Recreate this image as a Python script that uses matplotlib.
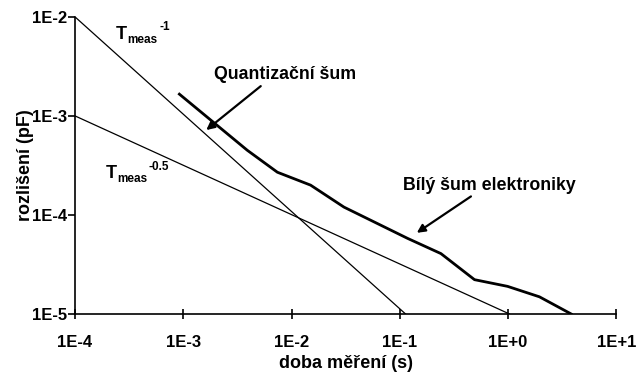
import matplotlib
matplotlib.use("Agg")
import matplotlib.pyplot as plt
from matplotlib.ticker import FixedLocator, FixedFormatter, NullLocator

# data
t_noise = [9.2e-4, 3.9e-3, 7.4e-3, 1.5e-2, 3.05e-2, 1.18e-1, 2.4e-1, 4.9e-1, 9.9e-1, 1.95, 3.83]
r_noise = [1.66e-3, 4.5e-4, 2.7e-4, 2.0e-4, 1.2e-4, 5.8e-5, 4.07e-5, 2.22e-5, 1.9e-5, 1.49e-5, 1.0e-5]
t_inv1 = [1e-4, 1.13e-1]
r_inv1 = [1e-2, 1e-5]
t_inv05 = [1e-4, 1.03]
r_inv05 = [1e-3, 1e-5]

x_ticks = [1e-4, 1e-3, 1e-2, 1e-1, 1e0, 1e1]
x_labels = ["1E-4", "1E-3", "1E-2", "1E-1", "1E+0", "1E+1"]
y_ticks = [1e-5, 1e-4, 1e-3, 1e-2]
y_labels = ["1E-5", "1E-4", "1E-3", "1E-2"]

plt.rcParams['font.family'] = ['Liberation Sans', 'DejaVu Sans']
plt.rcParams['font.weight'] = 'bold'

fig = plt.figure(figsize=(6.36, 3.76), dpi=100)
ax = fig.add_axes([0.118, 0.165, 0.851, 0.79])

ax.plot(t_inv1, r_inv1, color='black', lw=0.9)
ax.plot(t_inv05, r_inv05, color='black', lw=0.9)
ax.plot(t_noise, r_noise, color='black', lw=2.0)

ax.set_xscale('log')
ax.set_yscale('log')
ax.set_xlim(1e-4, 1e1)
ax.set_ylim(1e-5, 1e-2)

ax.xaxis.set_major_locator(FixedLocator(x_ticks))
ax.xaxis.set_major_formatter(FixedFormatter(x_labels))
ax.yaxis.set_major_locator(FixedLocator(y_ticks))
ax.yaxis.set_major_formatter(FixedFormatter(y_labels))
ax.xaxis.set_minor_locator(NullLocator())
ax.yaxis.set_minor_locator(NullLocator())

ax.spines['top'].set_visible(False)
ax.spines['right'].set_visible(False)
ax.spines['left'].set_linewidth(1.2)
ax.spines['bottom'].set_linewidth(1.2)
ax.tick_params(axis='x', direction='inout', length=7, width=1.2, labelsize=12, pad=12)
ax.tick_params(axis='y', direction='out', length=5, width=1.2, labelsize=12, pad=1)

ax.set_xlabel("doba měření (s)", fontsize=13, fontweight='bold', labelpad=3)
ax.set_ylabel("rozlišení (pF)", fontsize=13, fontweight='bold', labelpad=-2)


def power_label(x, y, exponent):
    # T with "meas" subscript and exponent superscript
    ax.text(x, y, "T", fontsize=13, fontweight='bold', ha='left', va='center')
    ax.annotate("meas", xy=(x, y), xytext=(8, -4), textcoords='offset points',
                fontsize=8.5, fontweight='bold', ha='left', va='center')
    ax.annotate(exponent, xy=(x, y), xytext=(31, 5), textcoords='offset points',
                fontsize=8.5, fontweight='bold', ha='left', va='center')


power_label(2.4e-4, 6.7e-3, "-1")
power_label(1.92e-4, 2.6e-4, "-0.5")

ax.annotate("Quantizační šum", xy=(1.63e-3, 7.2e-4), xytext=(1.94e-3, 2.6e-3),
            fontsize=12.8, fontweight='bold', ha='left', va='center',
            arrowprops=dict(arrowstyle='-|>', color='black', lw=1.6, mutation_scale=12,
                            shrinkA=0, shrinkB=0, relpos=(0.35, 0.0)))
ax.annotate("Bílý šum elektroniky", xy=(0.1436, 6.6e-5), xytext=(0.106, 2.0e-4),
            fontsize=12.8, fontweight='bold', ha='left', va='center',
            arrowprops=dict(arrowstyle='-|>', color='black', lw=1.6, mutation_scale=12,
                            shrinkA=0, shrinkB=0, relpos=(0.42, 0.0)))

fig.savefig("out.png", dpi=100)
